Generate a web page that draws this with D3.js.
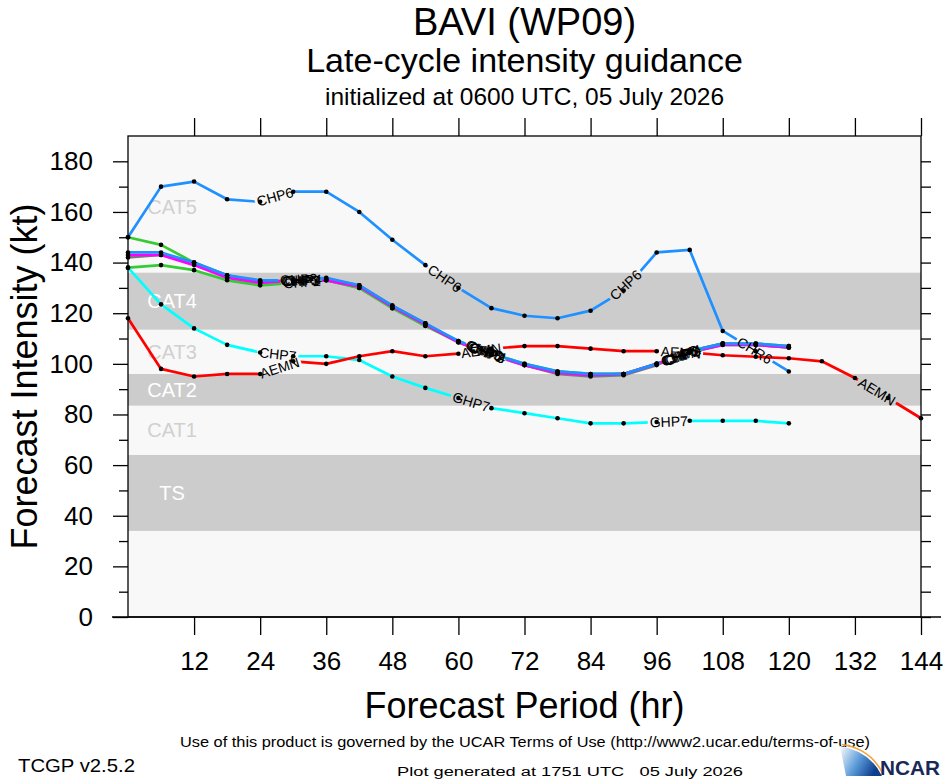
<!DOCTYPE html>
<html><head><meta charset="utf-8">
<script src="https://cdn.jsdelivr.net/npm/d3@7/dist/d3.min.js"></script>
<style>body{margin:0;background:#fff}svg{display:block}</style>
</head><body>
<svg id="c" width="946" height="780"></svg>
<script>
// ---------------- DATA ----------------
const hours = [0,6,12,18,24,30,36,42,48,54,60,66,72,78,84,90,96,102,108,114,120];
const hoursLong = [0,6,12,18,24,30,36,42,48,54,60,66,72,78,84,90,96,102,108,114,120,126,132,138,144];
const xTicks = [12,24,36,48,60,72,84,96,108,120,132,144];
const yTicks = [0,20,40,60,80,100,120,140,160,180];
const yMinorTicks = [10,30,50,70,90,110,130,150,170];
const yAllTicks = [0,10,20,30,40,50,60,70,80,90,100,110,120,130,140,150,160,170,180];

const catNames = ["TS","CAT1","CAT2","CAT3","CAT4","CAT5"];
const catLo    = [34, 64, 83.5, 96, 113.5, 136];
const catHi    = [64, 83.5, 96, 113.5, 136, 188];
const catShaded= [true,false,true,false,true,false];

const green2  = [138,139,137,133,131,132,133,130,122,115,108.5,103.5,99.5,96.5,95.5,96,100,104.5,107.5,107.5,106.5];
const green1  = [150,147,140,134,132,133,133,130,122,115,109,104,100,97,96,96,100,105,108,108,107];
const gray1   = [142,143,140,135,132.5,133,133.5,131,123,116,108.5,104,99.5,96,95,95.5,99.5,105,108,107.5,106.5];
const magenta1= [143,143,139,134,132,133,133,130.5,122.5,115.5,108.5,103.5,99.5,96.5,95.5,96,100,104.5,107.5,107.5,106.5];
const blue2   = [144,144,140,135,133,133,134,131,123,116,109,104,100,97,96,96,100,105,108,108,107];
const chp6    = [150,170,172,165,164,168,168,160,149,139,130,122,119,118,121,129,144,145,113,105,97];
const ghp7    = [138,123.5,114,107.5,104.5,103,103,101.5,95,90.5,86.5,82.5,80.5,78.5,76.5,76.5,77,77.5,77.5,77.5,76.5];
const aemn    = [118,98,95,96,96,101,100,103,105,103,104,106,107,107,106,105,105,104.5,103.4,102.8,102.2,101,94.4,86.5,78.5];

// label centre positions (forecast hour) and texts
const green2Labels  = [[31.6,"CHP2"],[65,"CHP2"],[100.4,"CHP2"]];
const green1Labels  = [[31.2,"CHP5"],[64.6,"CHP5"],[100,"CHP5"]];
const gray1Labels   = [[31.8,"CHP4"],[65.4,"CHP4"],[100.8,"CHP4"]];
const magentaLabels = [[31.4,"CHP3"],[65.2,"CHP3"],[100.6,"CHP3"]];
const blue2Labels   = [[31.0,"CHP8"],[64.8,"CHP8"],[100.2,"CHP8"]];
const chp6Labels    = [[26.7,"CHP6"],[57.5,"CHP6"],[90.6,"CHP6"],[113.8,"CHR6"]];
const ghp7Labels    = [[27.2,"CHP7"],[62.3,"GHP7"],[98.2,"GHP7"]];
const aemnLabels    = [[27.5,"AEMN"],[64.1,"AEMN"],[100.4,"AEMN"],[136,"AEMN"]];

const seriesTable = [
  {h:hours, v:green2,  c:"#33cc33", lab:green2Labels},
  {h:hours, v:green1,  c:"#33cc33", lab:green1Labels},
  {h:hours, v:gray1,   c:"#7a7a7a", lab:gray1Labels},
  {h:hours, v:magenta1,c:"#ff00ff", lab:magentaLabels},
  {h:hours, v:blue2,   c:"#1e90ff", lab:blue2Labels},
  {h:hours, v:chp6,    c:"#1e90ff", lab:chp6Labels},
  {h:hours, v:ghp7,    c:"#00ffff", lab:ghp7Labels},
  {h:hoursLong, v:aemn,c:"#ff0000", lab:aemnLabels}
];

// ---------------- LAYOUT ----------------
const W = 946, H = 780;
const L = 128, R = 921, T = 136, B = 617;
const FONT = "'Liberation Sans', Arial, Helvetica, sans-serif";
const NARROW = "'Liberation Sans Narrow', 'Liberation Sans', Arial, sans-serif";

const svg = d3.select("#c");
svg.append("rect").attr("width",W).attr("height",H).attr("fill","#fff");

const x = d3.scaleLinear().domain([0,144]).range([L,R]);
const y = d3.scaleLinear().domain([0,190]).range([B,T]);

// plot background
svg.append("rect").attr("x",L).attr("y",T).attr("width",R-L).attr("height",B-T).attr("fill","#f8f8f8");

// category bands
const cats = catNames.map((n,i)=>({n, lo:catLo[i], hi:catHi[i], s:catShaded[i]}));
svg.append("g").selectAll("rect").data(cats.filter(d=>d.s)).join("rect")
  .attr("x",L).attr("width",R-L)
  .attr("y",d=>y(d.hi)).attr("height",d=>y(d.lo)-y(d.hi))
  .attr("fill","#cccccc");
svg.append("g").selectAll("text").data(cats).join("text")
  .attr("x",x(8)).attr("y",d=>y((d.lo+d.hi)/2))
  .attr("text-anchor","middle").attr("dominant-baseline","central")
  .attr("font-family",FONT).attr("font-size",20)
  .attr("fill",d=>d.s?"#ffffff":"#d0d0d0")
  .text(d=>d.n);

// ---------------- SERIES ----------------
const defs = svg.append("defs");
const lineGen = d3.line().x(d=>x(d[0])).y(d=>y(d[1]));
const gLines = svg.append("g");
const gDots = svg.append("g");
const gLabels = svg.append("g");

function placeOnPath(pts, hx, w){
  const cum=[0];
  for(let i=1;i<pts.length;i++){cum.push(cum[i-1]+Math.hypot(pts[i][0]-pts[i-1][0],pts[i][1]-pts[i-1][1]));}
  const px = x(hx);
  let i = 0;
  for(let k=0;k<pts.length-1;k++){ if(pts[k][0]<=px && pts[k+1][0]>=px){i=k;break;} }
  const t = (px-pts[i][0])/(pts[i+1][0]-pts[i][0]);
  const s = cum[i]+t*(cum[i+1]-cum[i]);
  function at(ss){
    ss=Math.max(0,Math.min(cum[cum.length-1],ss));
    let k=0; while(k<pts.length-2 && cum[k+1]<ss) k++;
    const tt=(ss-cum[k])/((cum[k+1]-cum[k])||1);
    return [pts[k][0]+tt*(pts[k+1][0]-pts[k][0]), pts[k][1]+tt*(pts[k+1][1]-pts[k][1])];
  }
  const a=at(s-w/2), b=at(s+w/2);
  return {cx:(a[0]+b[0])/2, cy:(a[1]+b[1])/2, ang:Math.atan2(b[1]-a[1],b[0]-a[0])*180/Math.PI};
}

seriesTable.forEach((s,si)=>{
  const data = s.h.map((h,i)=>[h,s.v[i]]);
  const pts = data.map(d=>[x(d[0]),y(d[1])]);
  const mask = defs.append("mask").attr("id","m"+si).attr("maskUnits","userSpaceOnUse")
    .attr("x",0).attr("y",0).attr("width",W).attr("height",H);
  mask.append("rect").attr("width",W).attr("height",H).attr("fill","#fff");
  s.lab.forEach(([hx,txt])=>{
    const t = gLabels.append("text").attr("font-family",FONT).attr("font-size",14)
      .attr("fill","#000").attr("text-anchor","middle").attr("dominant-baseline","central").text(txt);
    const w = t.node().getComputedTextLength();
    const p = placeOnPath(pts,hx,w);
    t.attr("transform",`translate(${p.cx},${p.cy}) rotate(${p.ang})`);
    mask.append("rect").attr("x",-w/2-2).attr("y",-7).attr("width",w+4).attr("height",14)
      .attr("fill","#000").attr("transform",`translate(${p.cx},${p.cy}) rotate(${p.ang})`);
  });
  gLines.append("path").attr("d",lineGen(data)).attr("fill","none")
    .attr("stroke",s.c).attr("stroke-width",2.7).attr("stroke-linejoin","round")
    .attr("mask",`url(#m${si})`);
  gDots.selectAll(null).data(data).join("circle")
    .attr("cx",d=>x(d[0])).attr("cy",d=>y(d[1])).attr("r",2.3).attr("fill","#000");
});
gLabels.raise();

// ---------------- AXES / FRAME ----------------
svg.append("rect").attr("x",L).attr("y",T).attr("width",R-L).attr("height",B-T)
  .attr("fill","none").attr("stroke","#000").attr("stroke-width",1.3);

function styleAxis(g){
  g.select(".domain").remove();
  g.selectAll(".tick line").attr("stroke","#000").attr("stroke-width",1.3);
  g.selectAll(".tick text").attr("font-family",FONT).attr("font-size",26).attr("fill","#000");
}
svg.append("g").attr("transform",`translate(${L},0)`)
  .call(d3.axisLeft(y).tickValues(yTicks).tickSize(15).tickPadding(20).tickFormat(d3.format("d")))
  .call(styleAxis);
svg.append("g").attr("transform",`translate(${L},0)`)
  .call(d3.axisLeft(y).tickValues(yMinorTicks).tickSize(9).tickFormat(""))
  .call(styleAxis);
svg.append("g").attr("transform",`translate(${R},0)`)
  .call(d3.axisRight(y).tickValues(yAllTicks).tickSize(10).tickFormat(""))
  .call(styleAxis);
svg.append("g").attr("transform",`translate(0,${B})`)
  .call(d3.axisBottom(x).tickValues(xTicks).tickSize(18).tickPadding(17).tickFormat(d3.format("d")))
  .call(styleAxis);
svg.append("g").attr("transform",`translate(0,${T})`)
  .call(d3.axisTop(x).tickValues(xTicks).tickSize(18).tickFormat(""))
  .call(styleAxis);
// extended zero line
svg.append("line").attr("x1",112).attr("x2",941).attr("y1",B).attr("y2",B)
  .attr("stroke","#000").attr("stroke-width",1.3);

// axis titles
svg.append("text").attr("x",x(72)).attr("y",718).attr("text-anchor","middle")
  .attr("font-family",FONT).attr("font-size",36).text("Forecast Period (hr)");
svg.append("text").attr("transform",`translate(37,${(T+B)/2}) rotate(-90)`).attr("text-anchor","middle")
  .attr("font-family",FONT).attr("font-size",36).text("Forecast Intensity (kt)");

// titles
const cx = x(72);
svg.append("text").attr("x",cx).attr("y",35).attr("text-anchor","middle")
  .attr("font-family",FONT).attr("font-size",38).text("BAVI (WP09)");
svg.append("text").attr("x",cx).attr("y",72).attr("text-anchor","middle")
  .attr("font-family",FONT).attr("font-size",34).text("Late-cycle intensity guidance");
svg.append("text").attr("x",cx).attr("y",105).attr("text-anchor","middle")
  .attr("font-family",FONT).attr("font-size",24.5).text("initialized at 0600 UTC, 05 July 2026");

// footer
svg.append("text").attr("x",525).attr("y",747).attr("text-anchor","middle")
  .attr("font-family",NARROW).attr("font-size",15).attr("textLength",690).attr("lengthAdjust","spacingAndGlyphs")
  .text("Use of this product is governed by the UCAR Terms of Use (http://www2.ucar.edu/terms-of-use)");
svg.append("text").attr("x",18).attr("y",772)
  .attr("font-family",NARROW).attr("font-size",19).attr("textLength",117).attr("lengthAdjust","spacingAndGlyphs")
  .text("TCGP v2.5.2");
svg.append("text").attr("x",570).attr("y",776).attr("text-anchor","middle")
  .attr("font-family",NARROW).attr("font-size",12.5).attr("textLength",346).attr("lengthAdjust","spacingAndGlyphs")
  .attr("xml:space","preserve")
  .text("Plot generated at 1751 UTC   05 July 2026");

// NCAR logo
const grad = defs.append("linearGradient").attr("id","ncarg").attr("x1","0").attr("y1","0").attr("x2","1").attr("y2","0.4");
grad.append("stop").attr("offset","0").attr("stop-color","#ffffff");
grad.append("stop").attr("offset","0.55").attr("stop-color","#5a9ad8");
grad.append("stop").attr("offset","1").attr("stop-color","#0d3f8f");
svg.append("path").attr("d","M840,746 Q870,751 882,776 L846,776 Z").attr("fill","url(#ncarg)");
svg.append("path").attr("d","M842,744.5 Q871,749 883,774").attr("fill","none").attr("stroke","#f0a640").attr("stroke-width",1.6);
svg.append("text").attr("x",880).attr("y",775).attr("font-family",FONT).attr("font-weight","bold")
  .attr("font-size",20).attr("fill","#1a2858").attr("textLength",60).attr("lengthAdjust","spacingAndGlyphs").text("NCAR");
</script>
</body></html>
